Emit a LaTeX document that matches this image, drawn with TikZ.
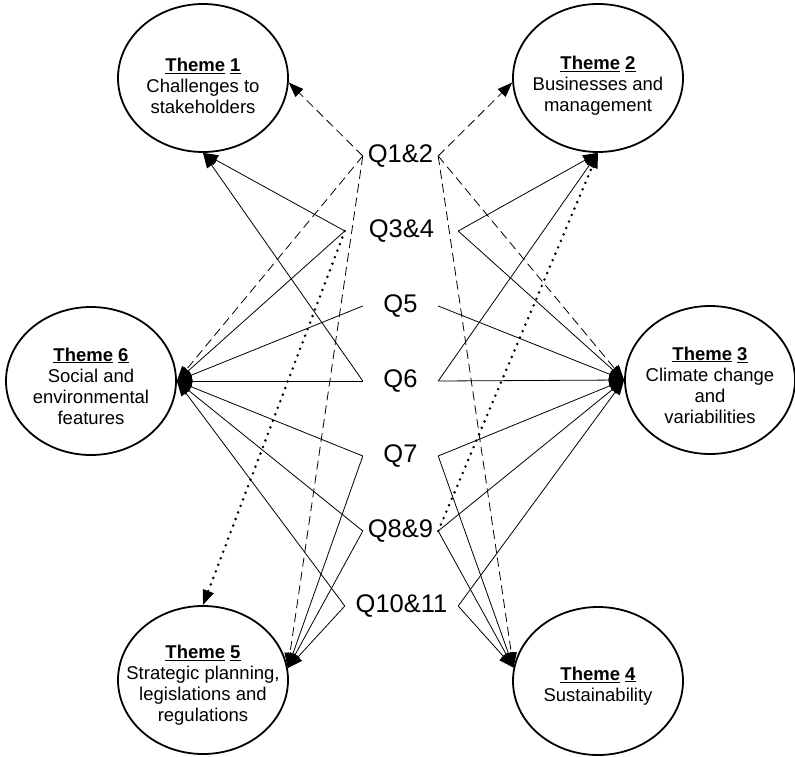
\documentclass[tikz,border=0pt]{standalone}
\usepackage{fontspec}
\setmainfont{Liberation Sans}
\usetikzlibrary{shapes.geometric,arrows.meta}

\begin{document}
\begin{tikzpicture}[x=1pt, y=-1pt,
    theme/.style={ellipse, draw, line width=1.8pt, minimum width=170pt, minimum height=148pt, inner sep=0pt},
    themetext/.style={align=center, inner sep=0pt, yshift=-5pt, font=\fontsize{18.5}{21}\selectfont},
    qlabel/.style={inner sep=0pt, minimum height=20pt, minimum width=75pt, font=\fontsize{25.5}{28}\selectfont},
    link/.style={-{Triangle[length=15pt,width=11pt]}, line width=0.8pt},
    dashlink/.style={link, dash pattern=on 9pt off 5pt},
    dotlink/.style={link, line width=2.8pt, line cap=round, dash pattern=on 0pt off 7pt}]
      \useasboundingbox (0,0) rectangle (795,757);

      \node[theme] (t1) at (203,78) {};
      \node[theme] (t2) at (598,78) {};
      \node[theme] (t3) at (710,380) {};
      \node[theme] (t4) at (598,681) {};
      \node[theme] (t5) at (203,680) {};
      \node[theme] (t6) at (91,381) {};

      \node[themetext, yshift=-3pt] (l1) at (t1) {\textbf{\underline{Theme} \underline{1}}\\Challenges to\\stakeholders};
      \node[themetext, yshift=-3pt] (l2) at (t2) {\textbf{\underline{Theme} \underline{2}}\\Businesses and\\management};
      \node[themetext] (l3) at (t3) {\textbf{\underline{Theme} \underline{3}}\\Climate change\\and\\variabilities};
      \node[themetext] (l4) at (t4) {\textbf{\underline{Theme} \underline{4}}\\Sustainability};
      \node[themetext] (l5) at (t5) {\textbf{\underline{Theme} \underline{5}}\\Strategic planning,\\legislations and\\regulations};
      \node[themetext] (l6) at (t6) {\textbf{\underline{Theme} \underline{6}}\\Social and\\environmental\\features};

      \node[qlabel] (q12) at (400.5,156) {Q1\&2};
      \node[qlabel, minimum width=113pt] (q34) at (401.5,231) {Q3\&4};
      \node[qlabel] (q5) at (400.5,306) {Q5};
      \node[qlabel] (q6) at (400.5,381) {Q6};
      \node[qlabel] (q7) at (400.5,456) {Q7};
      \node[qlabel] (q89) at (400.5,531) {Q8\&9};
      \node[qlabel, minimum width=113pt] (q1011) at (401.5,606) {Q10\&11};

      \draw[dashlink] (q12.west) -- (t1.-3);
      \draw[dashlink] (q12.west) -- (t6.east);
      \draw[dashlink] (q12.west) -- (t5.8);
      \draw[dashlink] (q12.east) -- (t2.183);
      \draw[dashlink] (q12.east) -- (t3.west);
      \draw[dashlink] (q12.east) -- (t4.171);

      \draw[link] (q34.west) -- (t1.south);
      \draw[link] (q34.west) -- (t6.east);
      \draw[dotlink] (q34.west) -- (t5.north);
      \draw[link] (q34.east) -- (t2.south);
      \draw[link] (q34.east) -- (t3.west);

      \draw[link] (q5.west) -- (t6.east);
      \draw[link] (q5.east) -- (t3.west);

      \draw[link] (q6.west) -- (t6.east);
      \draw[link] (q6.west) -- (t1.south);
      \draw[link] (q6.east) -- (t3.west);
      \draw[link] (q6.east) -- (t2.south);

      \draw[link] (q7.west) -- (t6.east);
      \draw[link] (q7.west) -- (t5.8);
      \draw[link] (q7.east) -- (t3.west);
      \draw[link] (q7.east) -- (t4.171);

      \draw[link] (q89.west) -- (t6.east);
      \draw[link] (q89.west) -- (t5.8);
      \draw[link] (q89.east) -- (t3.west);
      \draw[link] (q89.east) -- (t4.171);
      \draw[dotlink] (q89.east) -- (t2.south);

      \draw[link] (q1011.west) -- (t6.east);
      \draw[link] (q1011.west) -- (t5.8);
      \draw[link] (q1011.east) -- (t3.west);
      \draw[link] (q1011.east) -- (t4.171);
    \end{tikzpicture}
\end{document}
